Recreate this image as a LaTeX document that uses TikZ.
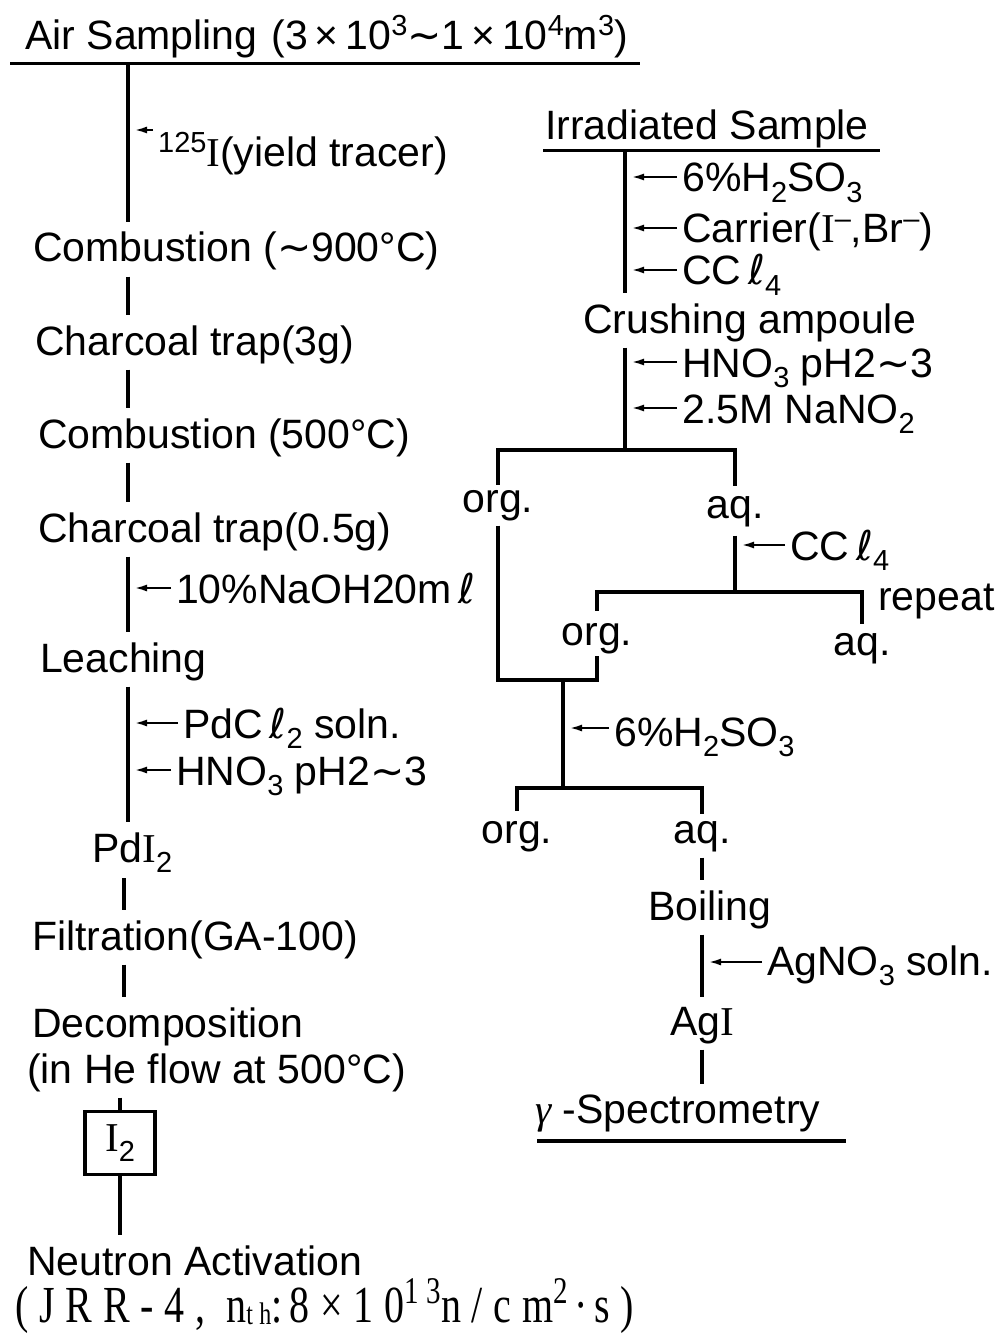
\documentclass[tikz,border=0pt]{standalone}
\usepackage{graphicx}
\usepackage{fontspec}
\setmainfont{Liberation Sans}
\newfontfamily\serifI{Liberation Serif}
\newfontfamily\symfont{DejaVu Sans}
\newfontfamily\wideserif[LetterSpace=27]{Liberation Serif}
\usetikzlibrary{positioning,calc,arrows.meta}
\newcommand{\Iod}{{\serifI I}}
\newcommand{\tld}{{\symfont ∼}}
\newcommand{\ltr}{{\symfont ℓ}}
\newcommand{\hi}[1]{\raisebox{0.36em}{\fontsize{29}{29}\selectfont #1}}
\newcommand{\lo}[1]{\raisebox{-0.25em}{\fontsize{29}{29}\selectfont #1}}

\begin{document}
\begin{tikzpicture}[
    x=1pt, y=-1pt,
    font=\fontsize{41}{46}\selectfont,
    >={Latex[length=12pt,width=7pt]},
    stage/.style={
        inner sep=0pt,
        anchor=base west
    },
    reagent/.style={
        inner sep=0pt,
        anchor=base west
    },
    phase/.style={
        inner sep=0pt,
        anchor=base
    },
    flow/.style={
        line width=3.2pt
    },
    link/.style={
        flow,
        shorten <=6pt,
        shorten >=10pt
    },
    feed/.style={
        ->,
        line width=1.8pt,
        shorten <=5pt,
        shorten >=7pt
    }
]
\useasboundingbox (0,0) rectangle (1001,1337);

\coordinate (xa) at (128,0);
\coordinate (xd) at (124,0);
\coordinate (xb) at (625,0);

% air sample
\node[stage] (air) at (25,50) {Air Sampling\hspace{14pt}(3\,×\,10\hi{3}\tld1\,×\,10\hi{4}m\hi{3})};
\coordinate (airL) at ([xshift=-15pt,yshift=-5pt]air.south west);
\coordinate (airR) at ([xshift=12pt,yshift=-5pt]air.south east);
\draw[flow] (airL) -- (airR);

\node[reagent] (tracer) at (158,167) {\hi{125}\Iod(yield tracer)};

\node[stage] (comb1) at (33,262) {Combustion (\tld900°C)};
\node[stage] (trap1) at (35,355) {Charcoal trap(3g)};
\node[stage] (comb2) at (38,448) {Combustion (500°C)};
\node[stage] (trap2) at (38,542) {Charcoal trap(0.5g)};

\node[reagent] (naoh) at (176,603) {10\%NaOH20m\,\ltr};

\node[stage] (leach) at (40,672) {Leaching};

\node[reagent] (pdcl) at (183,738) {PdC\,\ltr\lo{2} soln.};
\node[reagent] (hno1) at (176,785) {HNO\lo{3} pH2\tld3};

\node[stage] (pdi) at (92,862) {Pd\Iod\lo{2}};
\node[stage] (filt) at (32,950) {Filtration(GA-100)};
\node[stage] (decomp) at (32,1037) {Decomposition};
\node[stage] (decnote) at (27,1083) {(in He flow at 500°C)};
\node[draw, line width=3.2pt, minimum width=70pt, minimum height=63pt, inner sep=0pt] (itwo) at (120,1143) {\Iod\lo{2}};
\node[stage] (neut) at (27,1275) {Neutron Activation};
\node[stage] (jrr) at (15,1322) {\scalebox{1}[1.3]{\fontsize{40}{46}\wideserif (JRR-4, n\raisebox{-0.05em}{\fontsize{24}{24}\selectfont th}:\,8×10\hi{13}n/cm\hi{2}\,·\,s)}};

% left line
\draw[flow, shorten >=10pt] (airL -| xa) -- (comb1.north -| xa);
\draw[link] (comb1.south -| xa) -- (trap1.north -| xa);
\draw[link] (trap1.south -| xa) -- (comb2.north -| xa);
\draw[link] (comb2.south -| xa) -- (trap2.north -| xa);
\draw[link] (trap2.south -| xa) -- (leach.north -| xa);
\draw[link] (leach.south -| xa) -- (pdi.north -| xa);
\draw[link] (pdi.south -| xd) -- (filt.north -| xd);
\draw[link] (filt.south -| xd) -- (decomp.north -| xd);
\draw[flow, shorten <=6pt] (decnote.south -| itwo) -- (itwo.north);
\draw[flow, shorten >=10pt] (itwo.south) -- (neut.north -| itwo);

\draw[feed] ([yshift=37pt]tracer.base west) -- ([yshift=37pt]tracer.base west -| xa);
\draw[feed] ([yshift=15pt]naoh.base west) -- ([yshift=15pt]naoh.base west -| xa);
\draw[feed] ([yshift=15pt]pdcl.base west) -- ([yshift=15pt]pdcl.base west -| xa);
\draw[feed] ([yshift=15pt]hno1.base west) -- ([yshift=15pt]hno1.base west -| xa);

% irradiated sample
\node[stage] (irr) at (545,140) {Irradiated Sample};
\coordinate (irrL) at ([xshift=-2pt,yshift=-2pt]irr.south west);
\coordinate (irrR) at ([xshift=11pt,yshift=-2pt]irr.south east);
\draw[flow] (irrL) -- (irrR);

\node[reagent] (sulf1) at (682,192) {6\%H\lo{2}SO\lo{3}};
\node[reagent] (carrier) at (682,243) {Carrier(\Iod\hi{--},Br\hi{--})};
\node[reagent] (ccl1) at (682,285) {CC\,\ltr\lo{4}};
\node[stage] (crush) at (583,333) {Crushing ampoule};
\node[reagent] (hno2) at (682,377) {HNO\lo{3} pH2\tld3};
\node[reagent] (nano) at (682,423) {2.5M NaNO\lo{2}};

\draw[flow, shorten >=10pt] (irrL -| xb) -- (crush.north -| xb);
\draw[feed] ([yshift=15pt]sulf1.base west) -- ([yshift=15pt]sulf1.base west -| xb);
\draw[feed] ([yshift=15pt]carrier.base west) -- ([yshift=15pt]carrier.base west -| xb);
\draw[feed] ([yshift=15pt]ccl1.base west) -- ([yshift=15pt]ccl1.base west -| xb);

% extraction
\coordinate (split1) at (625,450);
\node[phase] (org1) at (498,512) {org.};
\node[phase] (aq1) at (735,518) {aq.};

\draw[flow, shorten <=6pt] (crush.south -| xb) -- (split1);
\draw[feed] ([yshift=15pt]hno2.base west) -- ([yshift=15pt]hno2.base west -| xb);
\draw[feed] ([yshift=15pt]nano.base west) -- ([yshift=15pt]nano.base west -| xb);
\draw[flow, shorten <=5pt, shorten >=10pt] (org1.north) |- (split1) -| (aq1.north);

% back extraction
\coordinate (split2) at (735,592);
\node[reagent] (ccl2) at (790,560) {CC\,\ltr\lo{4}};
\node[phase] (org2) at (597,645) {org.};
\node[phase] (aq2) at (862,655) {aq.};
\node[reagent] (rep) at (878,610) {repeat};

\draw[flow, shorten <=9pt] (aq1.south) -- (split2);
\draw[feed] ([yshift=15pt]ccl2.base west) -- ([yshift=15pt]ccl2.base west -| aq1);
\draw[flow, shorten <=12pt, shorten >=9pt] (org2.north) |- (split2) -| (aq2.north);

% combined organic
\coordinate (merge) at (563,680);
\coordinate (split3) at (563,788);
\node[reagent] (sulf2) at (614,746) {6\%H\lo{2}SO\lo{3}};
\node[phase] (org3) at (517,843) {org.};
\node[phase] (aq3) at (702,843) {aq.};

\draw[flow, shorten <=5pt, shorten >=2pt] (org1.south) |- (merge) -| (org2.south);
\draw[flow] (merge) -- (split3);
\draw[feed] ([yshift=18pt]sulf2.base west) -- ([yshift=18pt]sulf2.base west -| merge);
\draw[flow, shorten <=10pt, shorten >=7pt] (org3.north) |- (split3) -| (aq3.north);

% precipitation
\node[stage] (boil) at (648,920) {Boiling};
\node[reagent] (agno) at (767,975) {AgNO\lo{3} soln.};
\node[stage] (agi) at (670,1035) {Ag\Iod};
\node[stage] (gamma) at (535,1123) {{\serifI\itshape γ} -Spectrometry};
\coordinate (gamL) at ([xshift=2pt,yshift=-9pt]gamma.south west);
\coordinate (gamR) at ([xshift=26pt,yshift=-9pt]gamma.south east);

\draw[link] (aq3.south) -- (boil.north -| aq3);
\draw[link] (boil.south -| aq3) -- (agi.north -| aq3);
\draw[link] (agi.south -| aq3) -- (gamma.north -| aq3);
\draw[feed] ([yshift=13pt]agno.base west) -- ([yshift=13pt]agno.base west -| aq3);
\draw[flow] (gamL) -- (gamR);

\end{tikzpicture}
\end{document}
